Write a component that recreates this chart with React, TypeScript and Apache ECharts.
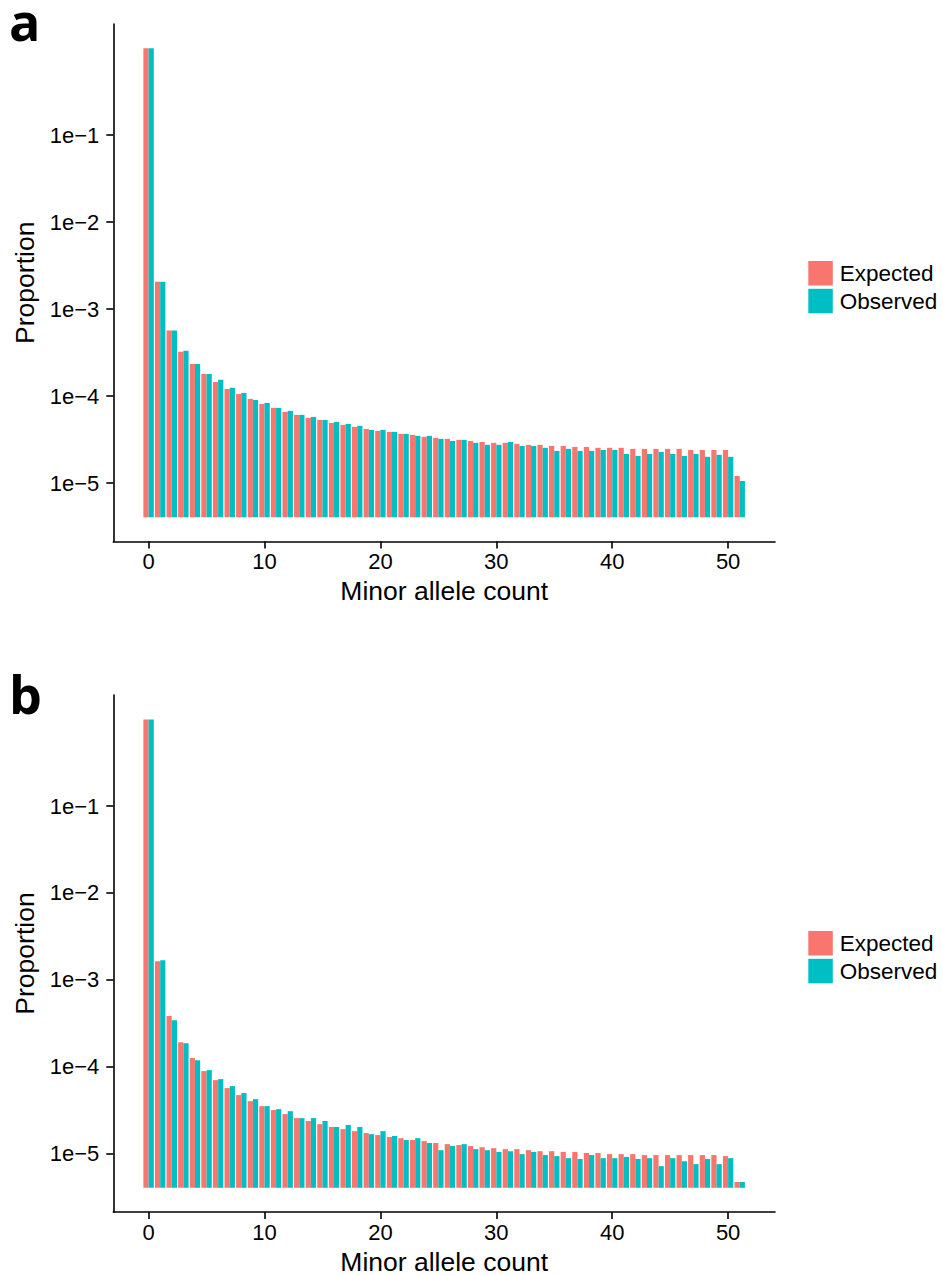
import React, { useEffect, useRef } from 'react';
import * as echarts from 'echarts';

// Minor allele count categories (x)
const MINOR_ALLELE_COUNTS = [
  0, 1, 2, 3, 4, 5, 6, 7, 8, 9, 10, 11, 12, 13, 14, 15, 16, 17, 18, 19, 20, 21, 22, 23, 24, 25,
  26, 27, 28, 29, 30, 31, 32, 33, 34, 35, 36, 37, 38, 39, 40, 41, 42, 43, 44, 45, 46, 47, 48, 49, 50, 51,
];

// Panel a
const EXPECTED_A = [
  0.995, 2.06e-3, 5.68e-4, 3.23e-4, 2.35e-4, 1.8e-4, 1.46e-4, 1.21e-4, 1.06e-4, 9.31e-5,
  8.15e-5, 7.34e-5, 6.6e-5, 6.1e-5, 5.63e-5, 5.34e-5, 4.93e-5, 4.68e-5, 4.44e-5, 4.21e-5,
  3.99e-5, 3.89e-5, 3.69e-5, 3.59e-5, 3.41e-5, 3.32e-5, 3.23e-5, 3.15e-5, 3.06e-5, 2.98e-5,
  2.91e-5, 2.91e-5, 2.83e-5, 2.76e-5, 2.76e-5, 2.68e-5, 2.68e-5, 2.61e-5, 2.61e-5, 2.55e-5,
  2.55e-5, 2.55e-5, 2.48e-5, 2.48e-5, 2.48e-5, 2.48e-5, 2.48e-5, 2.41e-5, 2.41e-5, 2.41e-5,
  2.41e-5, 1.21e-5,
];
const OBSERVED_A = [
  0.995, 2.06e-3, 5.68e-4, 3.32e-4, 2.35e-4, 1.8e-4, 1.54e-4, 1.25e-4, 1.09e-4, 9.06e-5,
  8.37e-5, 7.34e-5, 6.78e-5, 6.1e-5, 5.78e-5, 5.34e-5, 5.07e-5, 4.8e-5, 4.56e-5, 4.1e-5,
  4.1e-5, 3.89e-5, 3.69e-5, 3.5e-5, 3.5e-5, 3.23e-5, 3.06e-5, 3.15e-5, 2.91e-5, 2.76e-5,
  2.76e-5, 2.98e-5, 2.68e-5, 2.68e-5, 2.55e-5, 2.35e-5, 2.48e-5, 2.35e-5, 2.35e-5, 2.41e-5,
  2.41e-5, 2.17e-5, 2.06e-5, 2.17e-5, 2.29e-5, 2.17e-5, 2.06e-5, 2.17e-5, 2.01e-5, 2.12e-5,
  2.01e-5, 1.06e-5,
];

// Panel b
const EXPECTED_B = [
  0.99, 1.64e-3, 3.83e-4, 1.92e-4, 1.26e-4, 8.93e-5, 7.03e-5, 5.69e-5, 4.73e-5, 4.03e-5,
  3.53e-5, 3.18e-5, 2.86e-5, 2.57e-5, 2.38e-5, 2.19e-5, 2.03e-5, 1.92e-5, 1.82e-5, 1.73e-5,
  1.64e-5, 1.56e-5, 1.51e-5, 1.44e-5, 1.4e-5, 1.33e-5, 1.29e-5, 1.26e-5, 1.23e-5, 1.19e-5,
  1.16e-5, 1.13e-5, 1.13e-5, 1.1e-5, 1.07e-5, 1.07e-5, 1.05e-5, 1.05e-5, 1.02e-5, 1.02e-5,
  9.9e-6, 9.9e-6, 9.9e-6, 9.66e-6, 9.66e-6, 9.66e-6, 9.66e-6, 9.66e-6, 9.66e-6, 9.66e-6,
  9.4e-6, 4.73e-6,
];
const OBSERVED_B = [
  0.99, 1.68e-3, 3.44e-4, 1.87e-4, 1.19e-4, 9.16e-5, 7.22e-5, 6.0e-5, 4.99e-5, 4.25e-5,
  3.53e-5, 3.26e-5, 3.09e-5, 2.57e-5, 2.57e-5, 2.38e-5, 2.03e-5, 2.14e-5, 2.03e-5, 1.68e-5,
  1.82e-5, 1.6e-5, 1.44e-5, 1.51e-5, 1.33e-5, 1.1e-5, 1.23e-5, 1.29e-5, 1.13e-5, 1.1e-5,
  1.05e-5, 1.07e-5, 9.9e-6, 1.05e-5, 9.66e-6, 9.4e-6, 8.9e-6, 8.7e-6, 9.66e-6, 8.9e-6,
  8.9e-6, 9.2e-6, 8.7e-6, 8.9e-6, 7.2e-6, 8.9e-6, 8.2e-6, 7.6e-6, 8.7e-6, 7.6e-6,
  8.9e-6, 4.73e-6,
];

const X_TICKS = [0, 10, 20, 30, 40, 50];
const Y_TICK_EXPONENTS = [-5, -4, -3, -2, -1];
const BAR_BASELINE = 4.06e-6;
const SERIES_NAMES = ['Expected', 'Observed'];
const PANEL_LABELS = ['a', 'b'];

const COLOR_EXPECTED = '#F8766D';
const COLOR_OBSERVED = '#00BFC4';
const FONT = 'Liberation Sans, Arial, sans-serif';

const HALF = 0.225;

function makeRenderItem(offset: number, color: string) {
  return (params: any, api: any) => {
    const x = api.value(0);
    const y = api.value(1);
    const p1 = api.coord([x + offset - HALF, y]);
    const p2 = api.coord([x + offset + HALF, Math.log10(BAR_BASELINE)]);
    return {
      type: 'rect',
      shape: { x: p1[0], y: p1[1], width: p2[0] - p1[0], height: p2[1] - p1[1] },
      style: { fill: color },
    };
  };
}

function toData(values: number[]) {
  return MINOR_ALLELE_COUNTS.map((c, i) => [c, Math.log10(values[i])]);
}

const GRID_TOPS = [24, 695];
const GRID_HEIGHT = 517.5;
const GRID_LEFT = 113.3;
const GRID_WIDTH = 661.7;

export default function App() {
  const ref = useRef<HTMLDivElement>(null);

  useEffect(() => {
    if (!ref.current) return;
    const chart = echarts.init(ref.current, undefined, { renderer: 'svg' });

    const axisLine = { show: true, onZero: false, lineStyle: { color: '#000', width: 1.6 } };
    const axisTickBase = { show: true, length: 7, lineStyle: { color: '#000', width: 1.6 } };

    const panels = [
      { exp: EXPECTED_A, obs: OBSERVED_A },
      { exp: EXPECTED_B, obs: OBSERVED_B },
    ];

    const grids = GRID_TOPS.map((top) => ({
      left: GRID_LEFT,
      top,
      width: GRID_WIDTH,
      height: GRID_HEIGHT,
      containLabel: false,
    }));

    const xAxes = GRID_TOPS.map((_, gi) => ({
      type: 'value',
      gridIndex: gi,
      position: 'bottom',
      min: -3.045,
      max: 54.045,
      axisLine,
      axisTick: { ...axisTickBase, customValues: X_TICKS },
      axisLabel: {
        customValues: X_TICKS,
        fontSize: 22,
        fontFamily: FONT,
        color: '#000',
        margin: 9,
      },
      splitLine: { show: false },
      name: 'Minor allele count',
      nameLocation: 'middle',
      nameGap: 36,
      nameTextStyle: { fontSize: 26.5, fontFamily: FONT, color: '#000' },
    }));

    const yAxes = GRID_TOPS.map((_, gi) => ({
      type: 'value',
      gridIndex: gi,
      position: 'left',
      min: -5.67,
      max: 0.277,
      axisLine,
      axisTick: { ...axisTickBase, customValues: Y_TICK_EXPONENTS },
      axisLabel: {
        customValues: Y_TICK_EXPONENTS,
        formatter: (v: number) => '1e' + (v < 0 ? '\u2212' + Math.abs(v) : String(v)),
        fontSize: 22,
        fontFamily: FONT,
        color: '#000',
        margin: 14,
      },
      splitLine: { show: false },
      name: 'Proportion',
      nameLocation: 'middle',
      nameRotate: 90,
      nameGap: 74,
      nameTextStyle: { fontSize: 26.5, fontFamily: FONT, color: '#000' },
    }));

    const series: any[] = [];
    panels.forEach((p, gi) => {
      series.push({
        type: 'custom',
        name: SERIES_NAMES[0],
        xAxisIndex: gi,
        yAxisIndex: gi,
        itemStyle: { color: COLOR_EXPECTED },
        renderItem: makeRenderItem(-HALF, COLOR_EXPECTED),
        encode: { x: 0, y: 1 },
        data: toData(p.exp),
      });
      series.push({
        type: 'custom',
        name: SERIES_NAMES[1],
        xAxisIndex: gi,
        yAxisIndex: gi,
        itemStyle: { color: COLOR_OBSERVED },
        renderItem: makeRenderItem(HALF, COLOR_OBSERVED),
        encode: { x: 0, y: 1 },
        data: toData(p.obs),
      });
    });

    const legends = [261, 931].map((top) => ({
      orient: 'vertical',
      left: 808.3,
      top,
      padding: 0,
      itemWidth: 24.5,
      itemHeight: 24.5,
      itemGap: 3.3,
      icon: 'rect',
      selectedMode: false,
      data: SERIES_NAMES,
      textStyle: { fontSize: 22.5, fontFamily: FONT, color: '#000', padding: [0, 0, 0, 2] },
    }));

    const graphic = PANEL_LABELS.map((label, i) => ({
      type: 'text',
      x: 9,
      y: i === 0 ? 20 : 693,
      style: {
        text: label,
        fontSize: 52,
        lineHeight: 34,
        fontWeight: 'bold',
        fontFamily: 'Open Sans, DejaVu Sans, sans-serif',
        fill: '#000',
        verticalAlign: 'middle',
      },
    }));

    chart.setOption({
      animation: false,
      backgroundColor: '#fff',
      grid: grids,
      xAxis: xAxes,
      yAxis: yAxes,
      legend: legends,
      graphic,
      series,
    });

    return () => chart.dispose();
  }, []);

  return (
    <div
      ref={ref}
      style={{ position: 'absolute', left: 0, top: 0, width: 943, height: 1276 }}
    />
  );
}
